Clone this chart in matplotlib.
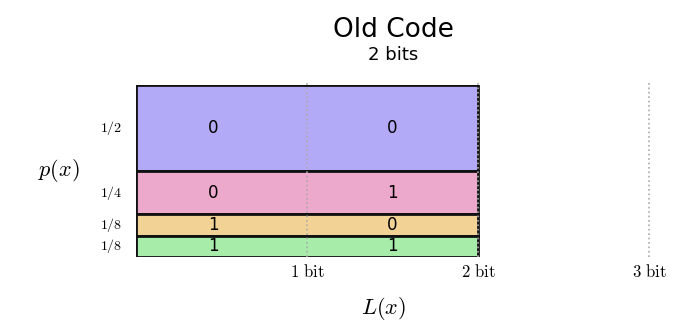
import matplotlib
matplotlib.use("Agg")
import matplotlib.pyplot as plt

plt.rcParams['mathtext.fontset'] = 'cm'

# Input data
probs = [1/2, 1/4, 1/8, 1/8]
prob_labels = ["1/2", "1/4", "1/8", "1/8"]
codes = ["00", "01", "10", "11"]
colors = ["#b3aaf7", "#eca9cb", "#f3d296", "#a8ecaa"]
bit_ticks = [1, 2, 3]
code_length = 2

fig = plt.figure(figsize=(6.87, 3.31), dpi=100)
ax = fig.add_axes([136 / 687, 74 / 331, 3.1 * 171 / 687, 172 / 331])
ax.set_xlim(0, 3.1)
ax.set_ylim(0, 1)
ax.set_axis_off()

# Stack the boxes from the top down
top = 1.0
for p, lab, code, c in zip(probs, prob_labels, codes, colors):
    bottom = top - p
    ax.add_patch(plt.Rectangle((0, bottom), code_length, p, facecolor=c,
                               edgecolor="#111111", lw=2.0, zorder=1))
    mid = (top + bottom) / 2
    for x, ch in zip([0.45, 1.5], code):
        ax.text(x, mid, ch, ha="center", va="center", fontsize=12, zorder=3)
    ax.text(-0.08, mid, "$" + lab + "$", ha="right", va="center",
            fontsize=10)
    top = bottom

# Dotted guides for each bit length
for b in bit_ticks:
    ax.plot([b, b], [0, 1.02], ls=":", color="#aaaaaa", lw=1.2, zorder=2,
            clip_on=False)
    ax.text(b, -0.035, r"$\mathrm{%d\ bit}$" % b, ha="center", va="top",
            fontsize=12)

ax.text(1.45, -0.22, "$L(x)$", ha="center", va="top", fontsize=16)
ax.text(-0.33, 0.5, "$p(x)$", ha="right", va="center", fontsize=16)

# Title
fig.text(393 / 687, 1 - 30 / 331, "Old Code", ha="center", va="center",
         fontsize=19)
fig.text(393 / 687, 1 - 55 / 331, "2 bits", ha="center", va="center",
         fontsize=13)

plt.savefig("out.png", dpi=100)
